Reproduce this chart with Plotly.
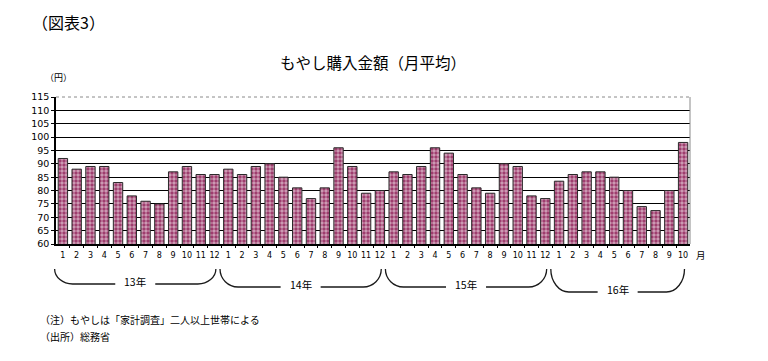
import plotly.graph_objects as go

# ---- data ----
years = ["13年", "14年", "15年", "16年"]
months_per_year = [12, 12, 12, 10]
values_13 = [92, 88, 89, 89, 83, 78, 76, 75, 87, 89, 86, 86]
values_14 = [88, 86, 89, 90, 85, 81, 77, 81, 96, 89, 79, 80]
values_15 = [87, 86, 89, 96, 94, 86, 81, 79, 90, 89, 78, 77]
values_16 = [83.5, 86, 87, 87, 85, 80, 74, 72.5, 80, 98]
y_ticks = [60, 65, 70, 75, 80, 85, 90, 95, 100, 105, 110, 115]

values = values_13 + values_14 + values_15 + values_16
month_labels = []
for n in months_per_year:
    month_labels += [str(m) for m in range(1, n + 1)]
x_idx = list(range(len(values)))
N = len(values)

JP = "Noto Sans CJK JP"
NUM = "DejaVu Sans"

# page has an 8px body margin: figure is placed at (8, 8)
OFF = 8
W, H = 768 - OFF, 361 - OFF
# desired plot area in page pixels: x 56..690, y 97..244
PL, PR, PT, PB = 56, 690, 97, 244
L = PL - OFF
T = PT - OFF
R = W - (PR - OFF)
B = H - (PB - OFF)
plot_w = PR - PL
plot_h = PB - PT


def py_paper(py):
    """page pixel y -> paper y"""
    return (PB - py) / plot_h


def px_paper(px):
    """page pixel x -> paper x"""
    return (px - PL) / plot_w


def idx_paper(i):
    return (i + 0.5) / N


fig = go.Figure()
fig.add_trace(go.Bar(
    x=x_idx, y=values,
    marker=dict(
        color="#993366",
        line=dict(color="#2a2a2a", width=1),
        pattern=dict(shape=".", fgcolor="white", bgcolor="#993366", size=4, solidity=0.6),
    ),
    hoverinfo="skip",
))

shapes = []
annotations = []

# year brackets
bracket_bottoms = [284, 287, 287, 292]
start = 0
for yi, (yr, n) in enumerate(zip(years, months_per_year)):
    first, last = start, start + n - 1
    x0 = idx_paper(first - 0.6)
    x1 = idx_paper(last + 0.1)
    xc = (x0 + x1) / 2
    yt = py_paper(269)
    yb = py_paper(bracket_bottoms[yi])
    dx = 18 / plot_w
    gap = 20 / plot_w
    ym = yt + 0.55 * (yb - yt)
    path = (f"M {x0},{yt} C {x0},{ym} {x0 + dx*0.45},{yb} {x0+dx},{yb} L {xc-gap},{yb} "
            f"M {xc+gap},{yb} L {x1-dx},{yb} C {x1 - dx*0.45},{yb} {x1},{ym} {x1},{yt}")
    shapes.append(dict(type="path", path=path, xref="paper", yref="paper",
                       line=dict(color="#1a1a1a", width=1.3)))
    annotations.append(dict(text=yr, x=xc, y=py_paper(bracket_bottoms[yi] - 3),
                            xref="paper", yref="paper", showarrow=False,
                            xanchor="center", yanchor="middle",
                            font=dict(family=JP, size=10.5, color="black")))
    start += n

# border top/right (gray)
shapes.append(dict(type="line", xref="paper", yref="paper", x0=0, x1=1, y0=1, y1=1,
                   line=dict(color="#8a8a8a", width=1, dash="dot"), layer="above"))
shapes.append(dict(type="line", xref="paper", yref="paper", x0=1, x1=1, y0=0, y1=1,
                   line=dict(color="#8a8a8a", width=1), layer="above"))


def text_at(text, px, py, size, anchor="left"):
    return dict(text=text, x=px_paper(px), y=py_paper(py), xref="paper", yref="paper",
                xanchor=anchor, yanchor="middle", showarrow=False,
                font=dict(family=JP, size=size, color="black"))


annotations += [
    text_at("（図表3）", 30, 22, 16),
    text_at("もやし購入金額（月平均）", 373, 62, 15.5, "center"),
    text_at("（円）", 43, 77, 9),
    text_at("月", 694, 255, 9.5),
    text_at("（注）もやしは「家計調査」二人以上世帯による", 38, 319, 10),
    text_at("（出所）総務省", 38, 336, 10),
]

fig.update_layout(
    width=W, height=H,
    margin=dict(l=L, r=R, t=T, b=B, pad=0),
    paper_bgcolor="white", plot_bgcolor="white",
    showlegend=False,
    bargap=0.32,
    shapes=shapes,
    annotations=annotations,
    xaxis=dict(
        range=[-0.5, N - 0.5],
        tickmode="array", tickvals=x_idx, ticktext=month_labels,
        tickfont=dict(family=NUM, size=8, color="black"),
        ticklabelstandoff=3,
        showgrid=False, zeroline=False,
        showline=True, linecolor="black", linewidth=1.5,
        ticks="", ticklen=0,
        minor=dict(tickmode="array", tickvals=[i + 0.5 for i in x_idx[:-1]],
                   ticks="outside", ticklen=2, tickcolor="black", showgrid=False),
    ),
    yaxis=dict(
        range=[60, 115],
        tickmode="array", tickvals=y_ticks,
        tickfont=dict(family=NUM, size=9.5, color="black"),
        showgrid=True, gridcolor="black", gridwidth=1,
        zeroline=False,
        showline=True, linecolor="black", linewidth=1.5,
        ticks="outside", ticklen=3, tickcolor="black",
    ),
)

fig.write_html("out.html")
